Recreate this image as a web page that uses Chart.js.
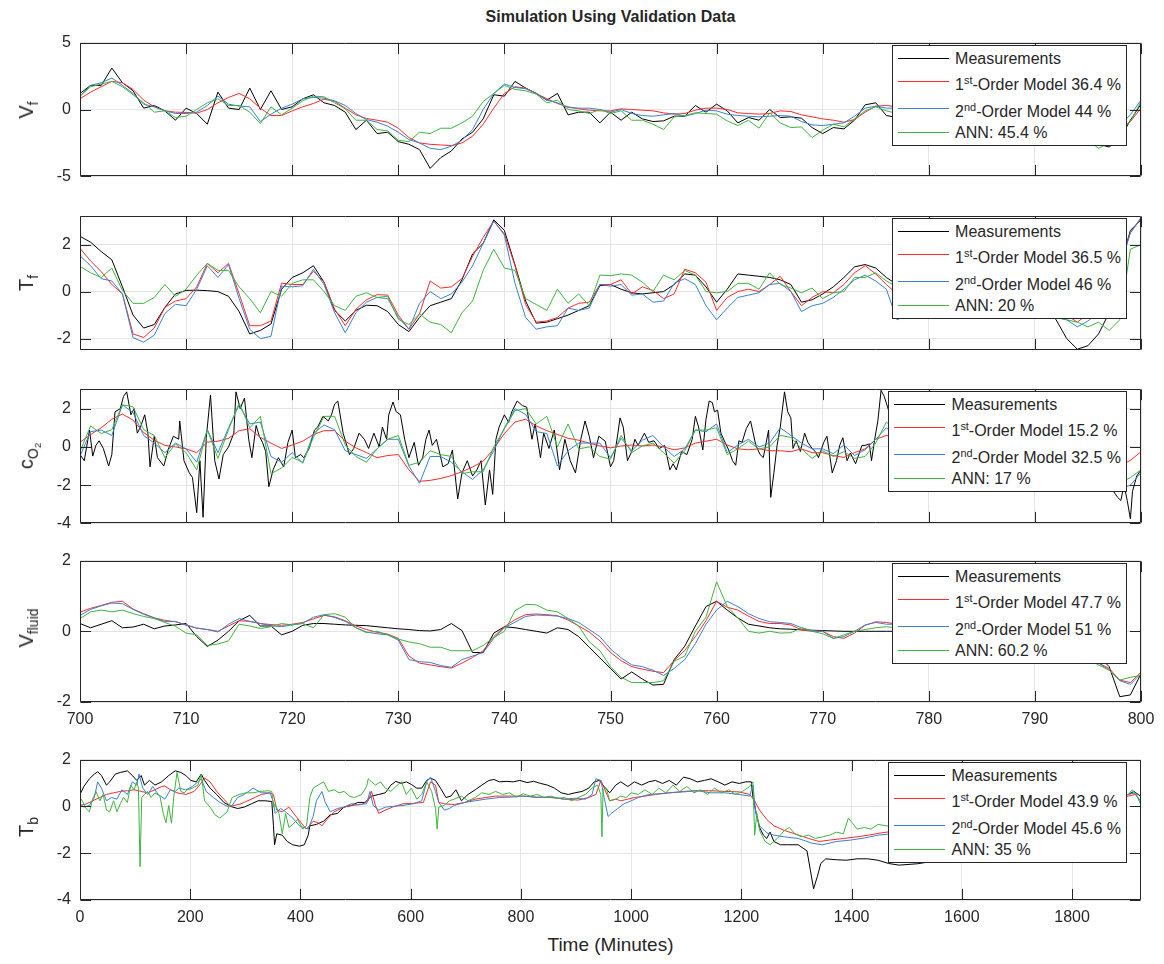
<!DOCTYPE html>
<html>
<head>
<meta charset="utf-8">
<title>Simulation Using Validation Data</title>
<script src="https://cdn.jsdelivr.net/npm/chart.js@4.4.1/dist/chart.umd.min.js"></script>
<style>
  body { margin: 0; background: #fff; }
  #page { position: relative; width: 1164px; height: 964px; overflow: hidden; background: #fff;
          font-family: 'Liberation Sans', Arial, Helvetica, sans-serif; color: #262626; }
  #page canvas { position: absolute; left: 0; }
  .title { position: absolute; left: 80px; width: 1061px; top: 7px; line-height: 20px; text-align: center;
           font-weight: bold; font-size: 16px; }
  .ylab { position: absolute; font-size: 20px; line-height: 24px; white-space: nowrap;
          transform: translate(-50%, -50%) rotate(-90deg); }
  .ylab sub { font-size: 0.7em; vertical-align: -0.35em; line-height: 0; }
  .xlab { position: absolute; left: 80px; width: 1061px; top: 933px; line-height: 24px; text-align: center; font-size: 19px; }
  .legend { position: absolute; right: 37px; height: 101px; box-sizing: border-box; border: 1px solid #262626;
            background: #fff; padding: 0 5px 0 62px; font-size: 16px; white-space: nowrap; z-index: 2; }
  .legend .txt { position: relative; height: 0; line-height: 16px; }
  .legend .key { position: absolute; left: 5px; width: 51px; height: 0; border-top: 1px solid; }
  .legend sup { font-size: 0.68em; vertical-align: 0.55em; line-height: 0; }
</style>
</head>
<body>
<div id="page">
  <div class="title">Simulation Using Validation Data</div>
  <div class="xlab">Time (Minutes)</div>
</div>
<script>
// sample instants (minutes) for the zoomed window
var minutes = [700, 701, 702, 703, 704, 705, 706, 707, 708, 709,
  710, 711, 712, 713, 714, 715, 716, 717, 718, 719,
  720, 721, 722, 723, 724, 725, 726, 727, 728, 729,
  730, 731, 732, 733, 734, 735, 736, 737, 738, 739,
  740, 741, 742, 743, 744, 745, 746, 747, 748, 749,
  750, 751, 752, 753, 754, 755, 756, 757, 758, 759,
  760, 761, 762, 763, 764, 765, 766, 767, 768, 769,
  770, 771, 772, 773, 774, 775, 776, 777, 778, 779,
  780, 781, 782, 783, 784, 785, 786, 787, 788, 789,
  790, 791, 792, 793, 794, 795, 796, 797, 798, 799, 800];

var zoomTicks = [700, 710, 720, 730, 740, 750, 760, 770, 780, 790, 800];
var fullTicks = [0, 200, 400, 600, 800, 1000, 1200, 1400, 1600, 1800];

// ---- V_f ----
var vfMeas = [1.2, 1.8, 1.8, 3.1, 2.0, 1.4, 0.1, 0.3, -0.1, -0.8,
  0.1, -0.3, -1.1, 1.3, 0.1, 0.0, 1.6, 0.0, 1.4, 0.0,
  0.2, 0.8, 1.1, 0.5, 0.3, -0.2, -1.5, -0.8, -1.8, -1.7,
  -2.4, -2.6, -3.0, -4.4, -3.6, -3.1, -2.2, -1.7, -0.7, 1.1,
  1.0, 2.1, 1.6, 1.2, 0.7, 1.2, -0.4, -0.2, -0.2, -1.0,
  -0.2, -0.8, -0.2, -0.7, -0.9, -0.85, -0.5, -0.5, 0.3, -0.2,
  0.4, -0.1, -1.0, -0.6, -0.8, 0.0, -0.6, -0.55, -0.65, -1.35,
  -1.8, -1.35, -1.45, -0.8, 0.35, 0.5, -0.45, -0.6, -0.3, -0.1,
  0.2, 0.0, -0.3, -0.2, 0.1, 0.0, -0.4, -0.2, 0.2, 0.0,
  -0.3, -0.5, -0.8, -1.2, -1.6, -2.1, -2.6, -2.8, -2.2, -0.8, 0.4];
var vfFirst = [0.8, 1.3, 1.7, 2.1, 2.0, 1.5, 0.7, 0.2, -0.1, -0.2,
  -0.22, -0.28, 0.0, 0.5, 0.9, 1.2, 0.8, 0.1, -0.45, -0.45,
  -0.1, 0.2, 0.45, 0.78, 0.6, 0.1, -0.4, -0.67, -0.8, -0.95,
  -1.4, -2.1, -2.5, -2.6, -2.65, -2.7, -2.5, -2.0, -1.1, 0.1,
  1.2, 1.7, 1.6, 1.2, 0.8, 0.45, 0.2, 0.05, -0.05, -0.1,
  -0.1, 0.05, 0.0, -0.05, -0.1, -0.25, -0.35, -0.3, -0.05, 0.1,
  0.1, 0.0, -0.25, -0.3, -0.35, -0.3, -0.1, -0.15, -0.4, -0.55,
  -0.7, -0.8, -0.95, -0.75, -0.2, 0.25, 0.3, 0.2, 0.1, 0.0,
  -0.1, -0.1, -0.1, -0.05, 0.0, 0.0, -0.1, -0.1, 0.0, 0.0,
  -0.1, -0.3, -0.5, -0.8, -1.1, -1.4, -1.8, -2.0, -1.6, -0.9, 0.1];
var vfSecond = [1.0, 1.8, 2.0, 2.35, 1.8, 1.2, 0.4, 0.2, -0.1, -0.3,
  -0.3, -0.2, 0.3, 1.0, 0.4, 0.25, 0.2, -0.9, -0.35, 0.1,
  0.4, 0.8, 0.9, 0.85, 0.65, 0.3, -0.3, -0.75, -0.95, -1.25,
  -1.7, -2.25, -2.5, -2.9, -3.0, -2.75, -2.3, -1.5, 0.0, 1.2,
  1.9, 1.65, 1.55, 1.2, 0.7, 0.5, 0.15, 0.1, 0.1, 0.0,
  -0.2, 0.0, -0.3, -0.45, -0.5, -0.4, -0.3, -0.5, -0.3, -0.05,
  -0.1, -0.35, -0.45, -0.5, -0.55, -0.5, -0.45, -0.5, -0.9, -1.15,
  -1.2, -1.1, -1.0, -0.5, 0.1, 0.25, 0.1, 0.1, 0.0, -0.1,
  -0.1, -0.2, -0.2, -0.1, -0.1, -0.2, -0.3, -0.2, -0.1, -0.2,
  -0.3, -0.6, -1.0, -1.4, -1.8, -2.1, -2.3, -2.2, -1.2, -0.4, 0.7];
var vfAnn = [1.0, 1.7, 1.9, 2.1, 1.7, 1.1, 0.5, -0.2, -0.1, -0.6,
  -0.5, 0.0, 0.5, 0.8, 0.3, 0.3, -0.2, -1.05, 0.2, -0.4,
  0.1, 0.65, 1.0, 0.95, 0.5, 0.05, -0.8, -0.8, -1.5, -1.6,
  -2.3, -2.4, -1.7, -1.8, -1.4, -1.4, -1.0, -0.5, 0.6, 1.2,
  1.8, 1.5, 1.4, 1.15, 0.5, 0.7, 0.0, -0.1, -0.3, 0.0,
  -0.3, -0.1, -0.8, -0.8, -1.1, -1.5, -0.55, -0.45, -0.25, -0.3,
  -0.35, -0.85, -1.2, -0.8, -1.4, -0.25, -1.0, -1.35, -1.3, -2.1,
  -1.55, -1.1, -1.3, -0.7, -0.1, 0.2, -0.1, -0.3, -0.2, -0.4,
  -0.2, -0.5, -0.3, -0.4, -0.2, -0.5, -0.6, -0.3, -0.2, -0.5,
  -0.7, -0.9, -1.3, -1.6, -2.0, -2.3, -2.9, -2.5, -1.5, -0.9, 0.6];

// ---- T_f ----
var tfMeas = [2.35, 2.1, 1.7, 1.35, 0.2, -1.0, -1.55, -1.4, -0.67, -0.1,
  0.05, 0.06, 0.04, 0.0, -0.2, -0.85, -1.8, -1.65, -1.38, 0.1,
  0.6, 0.8, 1.1, 0.4, -0.8, -1.25, -0.8, -0.58, -0.6, -0.85,
  -1.4, -1.7, -1.1, -0.6, -0.45, -0.3, 0.5, 1.6, 2.05, 3.05,
  2.6, 1.13, -0.4, -1.34, -1.3, -1.15, -1.0, -0.8, -0.6, 0.25,
  0.3, 0.1, -0.05, -0.1, -0.05, 0.0, 0.3, 0.75, 0.7, 0.2,
  -0.45, 0.1, 0.75, 0.7, 0.65, 0.6, 0.5, 0.3, -0.45, -0.35,
  -0.1, 0.2, 0.6, 1.05, 1.15, 1.0, 0.6, 0.3, -0.1, -0.2,
  0.0, 0.2, 0.5, 0.8, 0.9, 0.8, 0.7, 0.6, 0.5, 0.2,
  -0.2, -0.7, -1.2, -2.0, -2.45, -2.3, -1.8, -0.9, 1.0, 2.6, 3.05];
var tfFirst = [1.84, 1.3, 0.85, 0.3, -0.1, -1.8, -1.95, -1.55, -0.67, -0.4,
  -0.3, 0.2, 1.2, 0.8, 1.2, -0.1, -1.45, -1.45, -1.25, 0.36,
  0.3, 0.3, 0.87, 0.4, -0.75, -1.45, -0.75, -0.35, -0.13, -0.15,
  -1.0, -1.6, -0.95, 0.45, 0.15, 0.2, 0.55, 1.5, 2.3, 3.0,
  2.45, 1.1, -0.55, -1.3, -1.25, -1.1, -0.7, -0.5, -0.45, 0.3,
  0.3, 0.5, -0.1, 0.2, 0.05, -0.3, -0.1, 0.95, 0.8, 0.4,
  -0.8, -0.25, 0.0, 0.1, 0.0, 0.3, 0.65, 0.0, -0.6, -0.25,
  0.0, -0.05, 0.3, 0.8, 1.1, 0.75, 0.3, -0.1, -0.2, 0.0,
  0.2, 0.3, 0.4, 0.5, 0.6, 0.6, 0.5, 0.3, 0.1, -0.2,
  -0.5, -0.8, -0.85, -1.0, -1.3, -0.95, -0.7, -0.3, 1.2, 2.5, 3.1];
var tfSecond = [1.52, 1.1, 0.55, 0.45, -0.1, -1.96, -2.15, -1.85, -0.93, -0.54,
  -0.6, 0.1, 1.1, 0.6, 1.15, -0.3, -1.6, -2.0, -1.9, 0.23,
  0.2, 0.25, 0.95, 0.3, -0.9, -1.75, -0.9, -0.45, -0.25, -0.3,
  -1.1, -1.6, -0.5, 0.0, -0.3, -0.1, 0.4, 1.1, 2.05, 3.0,
  2.4, 0.35, -1.1, -1.6, -1.5, -1.45, -0.7, -0.8, -0.7, 0.3,
  0.23, 0.3, -0.15, -0.1, -0.45, -0.4, 0.35, 0.55, 0.3, -0.6,
  -1.2, -0.7, -0.25, -0.15, -0.05, 0.3, 0.35, 0.0, -0.85, -0.6,
  -0.5, -0.25, 0.1, 0.5, 0.7, 0.45, 0.1, -1.2, -1.0, -0.6,
  -0.3, 0.0, 0.2, 0.3, 0.4, 0.5, 0.4, 0.2, 0.0, -0.3,
  -0.7, -1.0, -1.1, -1.2, -1.5, -1.25, -0.9, -0.5, 1.0, 2.5, 3.15];
var tfAnn = [1.07, 0.8, 0.6, 1.0, 0.05, -0.5, -0.5, -0.25, 0.3, -0.2,
  0.1, 0.7, 1.2, 0.9, 0.9, 0.2, -0.3, -0.9, 0.0, -0.2,
  0.35, 0.5, 0.5, 0.0, -0.6, -0.8, -0.2, -0.05, -0.25, -0.2,
  -1.18, -1.4, -0.95, -1.3, -1.4, -1.75, -0.9, -0.4, 0.9, 1.8,
  1.0, 0.9, -0.3, -0.55, -0.8, 0.1, -0.5, -0.1, -0.6, 0.7,
  0.68, 0.75, 0.7, 0.4, 0.0, 0.7, 0.5, 0.9, 0.7, 0.0,
  -0.05, 0.0, 0.35, 0.35, 0.1, 0.8, 0.3, 0.15, -0.05, 0.15,
  -0.3, -0.05, 0.0, 0.6, 0.6, 0.8, 0.45, 0.2, 0.0, -0.2,
  0.1, 0.3, 0.5, 0.4, 0.6, 0.5, 0.3, 0.2, -0.1, -0.3,
  -0.6, -0.9, -1.1, -1.2, -1.3, -1.5, -1.3, -1.65, -1.2, 1.8, 2.0];

// ---- c_O2 (measurements kept at their own vertices: the signal is spiky) ----
var cO2Meas = [[700.0, -0.4], [700.4, -0.72], [700.9, 0.88], [701.2, -0.48], [701.5, 0.08], [701.8, 0.32],
  [702.2, -0.08], [702.7, -1.0], [703.0, -0.4], [703.3, 1.84], [703.8, 2.0], [704.1, 2.64], [704.4, 2.88],
  [704.8, 1.68], [705.1, 2.0], [705.4, 0.72], [705.7, 1.04], [706.1, 1.68], [706.4, 0.72], [706.6, -1.04],
  [707.0, 0.56], [707.3, -0.56], [707.9, -1.0], [708.3, -0.16], [708.8, 0.56], [709.3, 0.4], [709.4, 1.36],
  [709.8, -0.72], [710.3, -1.36], [710.6, -1.6], [711.0, -3.44], [711.3, -0.72], [711.6, -3.68], [711.9, 0.48],
  [712.3, 2.72], [712.7, -0.72], [713.1, -1.68], [713.5, -0.4], [714.0, 0.0], [714.5, 0.72], [714.7, 2.88],
  [715.1, 2.0], [715.5, 2.56], [715.9, 0.4], [716.2, -0.56], [716.6, 1.12], [716.9, 0.56], [717.2, 0.24],
  [717.5, -0.24], [717.8, -2.08], [718.2, -1.2], [718.7, -0.56], [719.2, -1.04], [719.6, 0.24], [720.0, 0.88],
  [720.3, -0.56], [720.8, -0.4], [721.1, -0.56], [721.6, -0.08], [722.1, 0.88], [722.4, 1.04], [722.9, 1.6],
  [723.4, 1.36], [723.7, 1.68], [724.0, 2.24], [724.3, 2.4], [724.8, 0.72], [725.1, 0.16], [725.4, -0.4],
  [725.8, -0.08], [726.3, 0.72], [726.8, 0.4], [727.2, -0.08], [727.7, 0.72], [728.2, 0.0], [728.5, 1.04],
  [728.9, 0.4], [729.1, 1.68], [729.5, 2.35], [729.8, 1.84], [730.2, 1.68], [730.6, 0.4], [731.0, -0.56],
  [731.5, 0.24], [731.9, -0.96], [732.3, -0.56], [732.6, 0.4], [732.9, 0.88], [733.2, 0.08], [733.6, 0.4],
  [733.9, -0.32], [734.2, -1.04], [734.7, -0.88], [735.1, -0.16], [735.6, -2.72], [736.0, -1.36], [736.5, -0.72],
  [737.0, -1.52], [737.4, -1.2], [737.8, -0.72], [738.2, -3.04], [738.6, -1.2], [738.9, -2.48], [739.2, 0.4],
  [739.5, 1.04], [740.0, 1.68], [740.4, 1.28], [740.7, 1.84], [741.2, 2.4], [741.7, 2.16], [742.1, 2.08],
  [742.6, 0.4], [742.9, 1.2], [743.4, -0.56], [743.7, 0.72], [744.2, -0.08], [744.7, 0.88], [745.2, -1.2],
  [745.7, 0.4], [746.2, -0.72], [746.7, -1.36], [747.2, 0.4], [747.6, 1.36], [748.0, 0.56], [748.4, -0.56],
  [748.9, 0.56], [749.5, 0.3], [750.0, -1.04], [750.3, -0.72], [750.7, 0.72], [750.9, 1.52], [751.2, 1.04],
  [751.6, -0.72], [752.0, -0.24], [752.3, 0.4], [752.6, 0.08], [752.9, 0.4], [753.2, 0.72], [753.6, 0.24],
  [754.1, 0.32], [754.6, -0.08], [755.1, 0.08], [755.6, -1.2], [755.9, -0.88], [756.2, -1.2], [756.7, -0.24],
  [757.2, -0.4], [757.7, 0.4], [758.0, 1.6], [758.3, 1.04], [758.7, -0.16], [759.0, 1.44], [759.3, 2.4],
  [759.6, 2.32], [759.8, 1.84], [760.1, 1.92], [760.4, 0.72], [760.8, 0.24], [761.2, -0.24], [761.5, -0.72],
  [761.8, -0.96], [762.1, 0.32], [762.4, 0.24], [762.8, 0.96], [763.2, 1.36], [763.7, 0.08], [764.1, -0.4],
  [764.4, -0.56], [764.9, 0.88], [765.1, -2.64], [765.4, -1.36], [765.7, 0.08], [766.0, 1.04], [766.4, 2.88],
  [766.7, 1.84], [767.0, 1.52], [767.2, -0.08], [767.5, 0.32], [767.9, -0.24], [768.3, 0.72], [768.6, 0.24],
  [769.0, -0.08], [769.3, -0.24], [769.6, -0.56], [770.1, 0.24], [770.4, 0.56], [770.9, -1.36], [771.3, -0.72],
  [771.6, 0.08], [771.9, 0.48], [772.3, -0.72], [772.6, -0.32], [773.1, -0.88], [773.4, -0.4], [773.7, 0.08],
  [774.0, 0.08], [774.4, 0.16], [774.6, -0.72], [774.9, 0.4], [775.2, 1.36], [775.5, 2.96], [775.8, 2.64],
  [777.0, 0.5], [778.5, -0.8], [780.0, 0.6], [781.5, -0.5], [783.0, 0.9], [784.5, -1.0], [786.0, 0.4],
  [787.5, -0.6], [789.0, 0.8], [790.5, -1.2], [792.0, 0.3], [793.5, -0.9], [795.0, 0.2], [796.5, -1.6],
  [797.8, -2.64], [798.1, -2.8], [798.4, -2.0], [798.7, -2.8], [799.0, -3.76], [799.2, -2.32], [799.6, -1.52],
  [800.0, -1.2]];
var cO2First = [0.24, 0.65, 1.0, 1.45, 1.72, 1.4, 0.75, 0.35, 0.08, 0.0,
  -0.1, -0.3, 0.25, 0.3, 0.45, 0.85, 0.95, 0.5, 0.2, -0.08,
  0.1, 0.3, 0.65, 0.85, 0.85, 0.3, -0.05, -0.3, -0.56, -0.45,
  -0.4, -1.2, -1.8, -1.75, -1.65, -1.5, -1.3, -1.05, -0.75, -0.1,
  0.7, 1.3, 1.45, 1.1, 0.85, 0.65, 0.45, 0.35, 0.2, 0.05,
  -0.05, 0.05, 0.1, 0.05, 0.1, 0.0, -0.15, -0.05, 0.2, 0.3,
  0.4, 0.1, -0.1, -0.15, -0.1, -0.2, -0.2, -0.25, -0.1, -0.3,
  -0.3, -0.45, -0.55, -0.3, -0.1, 0.4, 0.6, 0.5, 0.3, 0.2,
  0.1, 0.0, 0.1, 0.2, 0.0, -0.1, 0.0, 0.1, -0.1, -0.2,
  -0.3, -0.4, -0.6, -0.8, -1.0, -1.1, -1.2, -1.2, -1.0, -0.7, -0.25];
var cO2Second = [-0.48, 0.8, 0.88, 0.6, 2.2, 1.8, 0.6, 0.2, -0.3, 0.2,
  -0.1, -0.8, 0.9, -0.3, 1.0, 2.2, 1.2, 1.3, -0.5, -0.8,
  -0.3, -0.85, 0.7, 1.15, 0.9, -0.2, -0.4, -0.6, -0.1, 0.4,
  0.4, -1.0, -1.9, -0.5, -0.5, -0.8, -1.3, -1.7, -1.2, -0.2,
  1.0, 2.0, 1.7, 0.8, 0.7, -1.0, -0.2, 0.2, 0.2, 0.2,
  -0.56, 0.45, -0.2, 0.35, 0.6, 0.0, -0.5, -0.1, 0.88, 0.8,
  1.2, -0.3, 0.1, 0.4, 0.0, 0.2, 1.0, 0.6, 0.2, -0.1,
  -0.1, -0.35, 0.1, -0.45, -0.15, 0.4, 1.0, 0.6, 0.0, 0.3,
  -0.2, 0.2, 0.4, -0.3, 0.1, 0.2, -0.2, 0.3, -0.4, 0.0,
  -0.3, -0.6, -0.9, -1.2, -1.3, -1.6, -1.8, -1.9, -2.2, -2.0, -1.35];
var cO2Ann = [-0.24, 1.1, 0.7, 0.9, 2.2, 2.1, 0.9, 0.6, -0.56, 0.16,
  -0.3, -1.2, 0.9, -0.6, 0.9, 2.3, 1.0, 1.6, -1.4, -1.1,
  -0.55, -0.8, 0.5, 1.6, 1.6, 0.1, -0.5, -0.8, -0.1, 0.4,
  0.6, -0.96, -0.8, -0.2, -0.4, -0.5, -1.4, -1.3, -1.3, 0.0,
  0.95, 1.9, 2.0, 1.2, 1.6, 0.0, 1.2, -0.1, 0.0, -0.5,
  -0.64, 0.6, -0.3, 0.05, 0.2, -0.3, -0.85, -0.2, 0.88, 0.88,
  1.0, -0.4, -0.1, 0.3, -0.1, 0.0, 0.6, 0.5, -0.1, -0.6,
  -0.2, -0.5, -0.25, -0.6, -0.5, 0.2, 1.3, 0.8, 0.1, 0.3,
  -0.3, 0.1, 0.3, -0.4, 0.0, 0.2, -0.3, 0.2, -0.5, -0.1,
  -0.4, -0.6, -0.8, -1.0, -1.2, -1.4, -1.6, -1.7, -1.9, -1.6, -1.2];

// ---- V_fluid ----
var vflMeas = [0.22, 0.1, 0.2, 0.3, 0.1, 0.12, 0.2, 0.07, 0.15, 0.18,
  0.22, -0.15, -0.43, -0.25, 0.0, 0.3, 0.45, 0.15, 0.15, -0.1,
  0.0, 0.17, 0.22, 0.22, 0.2, 0.18, 0.17, 0.16, 0.13, 0.1,
  0.07, 0.05, 0.02, 0.01, 0.05, 0.22, 0.02, -0.6, -0.6, -0.05,
  0.13, 0.1, 0.05, 0.0, -0.05, 0.1, 0.05, -0.15, -0.45, -0.75,
  -1.05, -1.35, -1.15, -1.35, -1.52, -1.5, -0.8, -0.42, 0.15, 0.7,
  0.85, 0.6, 0.38, 0.2, 0.15, 0.1, 0.07, 0.06, 0.04, 0.03,
  0.02, 0.01, 0.0, 0.0, 0.0, 0.0, 0.0, 0.0, 0.0, 0.0,
  0.0, 0.0, 0.0, 0.0, 0.0, 0.0, 0.0, 0.0, 0.0, 0.0,
  0.0, -0.02, -0.05, -0.1, -0.2, -0.4, -0.7, -1.0, -1.85, -1.8, -1.2];
var vflFirst = [0.54, 0.65, 0.73, 0.82, 0.85, 0.63, 0.5, 0.38, 0.31, 0.27,
  0.18, 0.09, 0.05, 0.0, 0.15, 0.3, 0.28, 0.22, 0.19, 0.17,
  0.2, 0.25, 0.35, 0.45, 0.41, 0.3, 0.15, 0.05, -0.03, -0.08,
  -0.2, -0.7, -0.9, -0.95, -1.0, -1.04, -0.9, -0.74, -0.55, -0.15,
  0.13, 0.33, 0.47, 0.49, 0.47, 0.44, 0.32, 0.15, -0.02, -0.27,
  -0.6, -0.83, -1.0, -1.07, -1.13, -1.17, -0.83, -0.54, -0.15, 0.3,
  0.85, 0.68, 0.6, 0.43, 0.28, 0.22, 0.22, 0.18, 0.04, 0.0,
  0.0, -0.15, -0.2, -0.05, 0.17, 0.27, 0.25, 0.2, 0.15, 0.1,
  0.05, 0.0, 0.0, 0.05, 0.1, 0.15, 0.1, 0.05, 0.0, -0.05,
  -0.1, -0.2, -0.3, -0.45, -0.6, -0.75, -0.9, -1.05, -1.38, -1.45, -1.15];
var vflSecond = [0.45, 0.62, 0.72, 0.8, 0.78, 0.62, 0.48, 0.38, 0.27, 0.28,
  0.17, 0.09, 0.05, -0.02, 0.2, 0.36, 0.28, 0.22, 0.16, 0.13,
  0.18, 0.23, 0.4, 0.47, 0.39, 0.28, 0.1, -0.02, -0.07, -0.1,
  -0.25, -0.8, -0.86, -0.88, -0.97, -1.02, -0.8, -0.7, -0.6, -0.2,
  0.1, 0.26, 0.42, 0.46, 0.45, 0.43, 0.36, 0.25, 0.05, -0.15,
  -0.5, -0.75, -0.95, -1.0, -1.1, -1.25, -1.05, -0.8, -0.35, 0.2,
  0.6, 0.85, 0.7, 0.5, 0.36, 0.27, 0.25, 0.22, 0.1, 0.02,
  0.0, -0.2, -0.15, 0.0, 0.18, 0.25, 0.2, 0.2, 0.15, 0.1,
  0.05, 0.0, 0.0, 0.05, 0.1, 0.15, 0.1, 0.05, 0.0, -0.05,
  -0.1, -0.2, -0.3, -0.45, -0.6, -0.75, -0.9, -1.1, -1.4, -1.5, -1.2];
var vflAnn = [0.36, 0.55, 0.6, 0.55, 0.6, 0.5, 0.42, 0.36, 0.25, 0.14,
  -0.05, -0.1, -0.4, -0.36, -0.27, 0.2, 0.15, 0.08, 0.13, 0.22,
  0.18, 0.22, 0.1, 0.47, 0.5, 0.4, 0.1, -0.04, 0.0, -0.1,
  -0.22, -0.3, -0.35, -0.45, -0.45, -0.55, -0.55, -0.55, -0.4, -0.18,
  0.0, 0.58, 0.76, 0.75, 0.6, 0.55, 0.36, 0.15, -0.3, -0.55,
  -1.0, -1.3, -1.45, -1.45, -1.45, -1.4, -0.85, -0.7, 0.0, 0.4,
  1.4, 0.7, 0.38, 0.0, -0.05, 0.0, -0.05, -0.04, 0.1, 0.0,
  -0.07, -0.2, -0.1, 0.0, 0.05, 0.1, 0.13, 0.1, 0.05, 0.0,
  0.05, 0.1, 0.0, -0.05, 0.05, 0.1, 0.0, -0.05, -0.1, -0.05,
  -0.15, -0.25, -0.35, -0.5, -0.65, -0.8, -0.95, -1.1, -1.38, -1.3, -1.25];

// ---- T_b, whole validation record, [minute, value] ----
var tbMeas = [[0, 0.51], [7, 0.85], [17, 1.18], [26, 1.38], [32, 1.48], [39, 1.32], [48, 0.91], [54, 1.05],
  [64, 1.38], [73, 1.45], [86, 1.52], [95, 1.32], [103, 1.11], [111, 1.32], [117, 0.91], [126, 1.11],
  [136, 0.91], [148, 1.05], [161, 1.32], [173, 1.52], [183, 1.45], [192, 1.32], [201, 1.11], [211, 1.05],
  [220, 1.38], [226, 1.11], [236, 0.78], [248, 0.51], [261, 0.17], [273, 0.0], [286, -0.09], [298, -0.03],
  [311, 0.11], [323, 0.24], [336, 0.24], [348, 0.21], [351, -0.83], [353, -1.64], [357, -1.17], [367, -1.23],
  [376, -1.5], [386, -1.64], [398, -1.7], [407, -1.64], [414, -1.23], [417, -0.83], [429, -0.77], [442, -0.63],
  [454, -0.36], [467, -0.3], [479, -0.03], [492, 0.04], [504, 0.17], [517, 0.17], [529, 0.44], [542, 0.51],
  [554, 0.58], [564, 0.91], [573, 1.07], [583, 0.98], [592, 1.05], [601, 0.94], [611, 0.78], [620, 0.78],
  [629, 1.11], [636, 1.21], [645, 1.11], [654, 0.78], [664, 0.38], [673, 0.44], [682, 0.71], [692, 0.24],
  [704, 0.51], [717, 0.71], [729, 0.91], [742, 1.11], [751, 1.15], [761, 1.05], [773, 1.07], [786, 1.05],
  [798, 1.11], [811, 1.02], [823, 1.07], [836, 0.98], [848, 0.91], [861, 0.78], [873, 0.58], [886, 0.51],
  [898, 0.58], [911, 0.64], [923, 0.78], [933, 1.05], [942, 1.11], [951, 0.85], [961, 0.58], [972, 0.91],
  [981, 1.05], [994, 0.85], [1006, 1.05], [1019, 0.91], [1032, 1.05], [1044, 1.11], [1057, 0.98], [1069, 1.11],
  [1082, 0.91], [1095, 1.25], [1107, 1.18], [1120, 1.05], [1133, 1.11], [1145, 1.18], [1158, 1.05], [1170, 0.91],
  [1183, 1.05], [1196, 0.98], [1208, 1.05], [1218, 1.05], [1221, 0.38], [1227, -0.3], [1233, -0.9], [1240, -1.23],
  [1246, -1.37], [1252, -1.1], [1259, -1.5], [1271, -1.64], [1284, -1.64], [1303, -1.64], [1319, -1.9],
  [1325, -2.71], [1331, -3.52], [1338, -2.98], [1344, -2.44], [1353, -2.24], [1372, -2.28], [1391, -2.3],
  [1410, -2.24], [1429, -2.24], [1448, -2.3], [1467, -2.44], [1486, -2.51], [1520, -2.45], [1560, -2.3],
  [1600, -1.9], [1650, -1.3], [1700, -0.7], [1750, -0.3], [1800, 0.05], [1850, 0.3], [1902, 0.51],
  [1912, 0.64], [1924, 0.44]];
var tbFirst = [[0, 0.04], [11, 0.1], [23, 0.24], [36, 0.38], [48, 0.51], [61, 0.58], [73, 0.64], [86, 0.67],
  [98, 0.71], [111, 0.64], [123, 0.58], [136, 0.71], [148, 0.85], [154, 0.87], [164, 0.71], [176, 0.58],
  [192, 0.51], [207, 0.64], [217, 0.91], [226, 1.21], [236, 1.05], [248, 0.64], [261, 0.31], [273, 0.0],
  [292, 0.11], [311, 0.31], [329, 0.51], [345, 0.58], [351, 0.51], [357, -0.16], [367, -0.23], [379, -0.03],
  [392, -0.43], [401, -0.7], [411, -0.97], [423, -0.63], [432, -0.7], [439, -0.83], [448, -0.56], [461, -0.23],
  [479, -0.03], [492, 0.04], [511, 0.08], [523, 0.24], [529, 0.64], [536, 0.04], [542, -0.3], [554, -0.16],
  [567, -0.03], [586, 0.11], [604, 0.13], [623, 0.17], [636, 1.05], [645, 0.91], [651, 0.17], [661, 0.11],
  [679, 0.08], [698, 0.17], [717, 0.31], [736, 0.38], [754, 0.44], [779, 0.44], [804, 0.44], [829, 0.4],
  [854, 0.38], [879, 0.31], [904, 0.27], [923, 0.38], [936, 0.51], [945, 1.11], [951, 0.78], [961, 0.24],
  [972, 0.31], [981, 0.24], [994, 0.31], [1006, 0.38], [1025, 0.44], [1044, 0.51], [1069, 0.58], [1095, 0.64],
  [1120, 0.67], [1145, 0.67], [1170, 0.64], [1196, 0.62], [1215, 0.51], [1224, 0.24], [1233, -0.16],
  [1246, -0.56], [1259, -0.83], [1278, -1.03], [1297, -1.17], [1322, -1.37], [1341, -1.5], [1360, -1.44],
  [1385, -1.37], [1410, -1.3], [1435, -1.21], [1454, -1.13], [1480, -1.05], [1550, -0.9], [1600, -0.75],
  [1650, -0.6], [1700, -0.4], [1750, -0.2], [1800, 0.0], [1850, 0.25], [1902, 0.44], [1915, 0.51], [1924, 0.24]];
var tbSecond = [[0, 0.11], [7, -0.03], [17, 0.04], [26, 0.38], [32, 1.05], [39, 0.78], [48, 0.24], [57, 0.38],
  [67, 0.31], [76, 0.71], [86, 0.51], [95, 1.05], [103, 0.91], [107, 1.38], [114, 0.78], [123, 0.51],
  [132, 0.85], [142, 0.51], [154, 0.31], [164, 0.71], [173, 0.64], [179, 0.78], [192, 0.71], [204, 0.85],
  [214, 1.05], [220, 1.18], [229, 0.64], [242, 0.38], [254, 0.17], [267, 0.0], [276, 0.04], [286, 0.38],
  [298, 0.51], [314, 0.78], [329, 0.58], [345, 0.58], [351, 0.17], [354, -0.3], [364, -0.09], [373, -0.23],
  [386, -0.5], [398, -0.83], [414, -0.97], [423, -0.43], [429, 0.24], [439, 0.64], [445, 0.17], [454, -0.23],
  [467, -0.09], [479, -0.03], [492, 0.11], [504, 0.08], [520, 0.11], [526, 0.64], [532, 0.04], [542, -0.16],
  [554, -0.03], [567, 0.0], [586, 0.04], [604, 0.11], [620, 0.24], [629, 1.05], [636, 1.25], [645, 0.64],
  [651, 0.17], [661, -0.16], [670, -0.09], [679, 0.04], [698, 0.17], [717, 0.24], [736, 0.31], [761, 0.38],
  [786, 0.4], [804, 0.44], [829, 0.38], [854, 0.4], [879, 0.31], [898, 0.35], [917, 0.31], [929, 0.51],
  [936, 1.18], [945, 1.11], [951, 0.38], [958, -0.43], [964, -0.3], [975, -0.1], [987, 0.11], [1000, 0.24],
  [1013, 0.38], [1032, 0.51], [1050, 0.54], [1069, 0.58], [1095, 0.62], [1120, 0.67], [1145, 0.58],
  [1170, 0.58], [1196, 0.51], [1215, 0.44], [1221, 0.91], [1226, -0.3], [1233, -0.83], [1246, -1.13],
  [1259, -1.23], [1278, -1.3], [1303, -1.37], [1328, -1.57], [1347, -1.64], [1372, -1.5], [1398, -1.44],
  [1423, -1.35], [1448, -1.23], [1480, -1.15], [1550, -1.0], [1600, -0.85], [1650, -0.7], [1700, -0.5],
  [1750, -0.25], [1800, 0.0], [1850, 0.25], [1902, 0.51], [1915, 0.58], [1924, 0.11]];
var tbAnn = [[0, 0.38], [4, 0.24], [11, -0.09], [17, -0.23], [23, 0.31], [29, 0.64], [36, 0.24], [42, 0.51],
  [48, -0.16], [54, -0.23], [61, 0.24], [67, -0.23], [73, 0.11], [79, 0.38], [86, 0.17], [92, 0.91],
  [98, 0.71], [103, 1.05], [106, 0.78], [109, -2.58], [112, 0.38], [117, 0.51], [123, 0.64], [129, 0.38],
  [136, 0.58], [145, 0.44], [151, -0.3], [156, -0.7], [161, 0.04], [166, -0.72], [170, 0.38], [176, 1.45],
  [183, 0.64], [189, 0.58], [195, 0.71], [204, 0.78], [214, 0.91], [220, 1.38], [226, 0.24], [236, -0.03],
  [245, -0.36], [254, -0.5], [267, -0.23], [276, 0.38], [289, 0.51], [301, 0.58], [314, 0.58], [326, 0.64],
  [342, 0.67], [348, 0.64], [351, -0.03], [354, 0.11], [361, -0.3], [367, -1.17], [373, -0.3], [379, -0.9],
  [386, -0.77], [395, -0.56], [404, -0.97], [411, -0.83], [417, 0.38], [423, 0.78], [432, 0.91], [442, 1.05],
  [451, 0.64], [461, 0.71], [470, 0.58], [479, 0.64], [489, 0.44], [498, 0.38], [511, 0.51], [520, 0.85],
  [523, 1.18], [529, 1.05], [536, 0.91], [545, 1.05], [554, 0.78], [564, 0.64], [573, 0.85], [583, 1.05],
  [592, 0.51], [601, 0.78], [611, 0.31], [620, 0.51], [629, 1.05], [638, 0.64], [645, -0.09], [648, -0.97],
  [651, -0.03], [661, 0.04], [670, 0.24], [679, 0.31], [692, 0.44], [704, 0.24], [717, 0.38], [729, 0.58],
  [742, 0.51], [754, 0.64], [767, 0.51], [779, 0.58], [792, 0.4], [804, 0.54], [817, 0.44], [829, 0.51],
  [842, 0.38], [854, 0.44], [867, 0.35], [879, 0.38], [892, 0.24], [904, 0.38], [917, 0.51], [929, 0.78],
  [939, 0.91], [945, 0.5], [947, -1.3], [949, 0.7], [955, 0.78], [961, 0.24], [972, 0.31], [981, 0.44],
  [991, 0.38], [1000, 0.58], [1013, 0.51], [1025, 0.71], [1038, 0.51], [1050, 0.78], [1063, 0.58], [1076, 0.91],
  [1088, 0.64], [1101, 0.85], [1114, 0.58], [1126, 0.71], [1139, 0.51], [1151, 0.78], [1164, 0.58], [1177, 0.71],
  [1189, 0.51], [1202, 0.64], [1215, 0.85], [1221, 1.05], [1224, -1.23], [1228, -0.3], [1233, -1.03],
  [1243, -1.5], [1252, -1.64], [1265, -1.37], [1278, -1.03], [1287, -0.9], [1297, -1.17], [1309, -1.3],
  [1322, -1.23], [1334, -1.37], [1347, -1.3], [1360, -1.23], [1372, -1.1], [1385, -1.17], [1394, -0.5],
  [1401, -0.7], [1410, -0.97], [1423, -0.9], [1435, -0.97], [1448, -0.77], [1480, -0.9], [1550, -0.8],
  [1600, -0.7], [1650, -0.55], [1700, -0.4], [1750, -0.2], [1800, 0.0], [1850, 0.25], [1902, 0.51],
  [1909, 0.71], [1915, 0.51], [1924, 0.24]];

// fit percentages shown in each legend
var vfLegend = ['Measurements', '1<sup>st</sup>-Order Model 36.4 %', '2<sup>nd</sup>-Order Model 44 %', 'ANN: 45.4 %'];
var tfLegend = ['Measurements', '1<sup>st</sup>-Order Model 36.5 %', '2<sup>nd</sup>-Order Model 46 %', 'ANN: 20 %'];
var cO2Legend = ['Measurements', '1<sup>st</sup>-Order Model 15.2 %', '2<sup>nd</sup>-Order Model 32.5 %', 'ANN: 17 %'];
var vflLegend = ['Measurements', '1<sup>st</sup>-Order Model 47.7 %', '2<sup>nd</sup>-Order Model 51 %', 'ANN: 60.2 %'];
var tbLegend = ['Measurements', '1<sup>st</sup>-Order Model 43.9 %', '2<sup>nd</sup>-Order Model 45.6 %', 'ANN: 35 %'];

var FONT = "'Liberation Sans', Arial, Helvetica, sans-serif";
var INK = '#262626';
var GRID = '#e4e4e4';
var COLORS = ['#000000', '#ff2a2a', '#3a80d0', '#3db53d'];

var page = document.getElementById('page');

function seriesPoints(times, values) {
    var pts = [];
    for (var i = 0; i < values.length; i++) {
        pts.push({ x: times[i], y: values[i] });
    }
    return pts;
}

function pairPoints(pairs) {
    return pairs.map(function (p) { return { x: p[0], y: p[1] }; });
}

// box around the axes with inward tick marks on all four sides
var boxFrame = {
    id: 'boxFrame',
    afterDatasetsDraw: function (chart) {
        var ctx = chart.ctx;
        var a = chart.chartArea;
        var xs = chart.scales.x, ys = chart.scales.y;
        var len = 10.6;
        var l = Math.round(a.left) + 0.5, r = Math.round(a.right) - 0.5;
        var t = Math.round(a.top) + 0.5, b = Math.round(a.bottom) - 0.5;
        ctx.save();
        ctx.strokeStyle = INK;
        ctx.lineWidth = 1;
        ctx.beginPath();
        xs.ticks.forEach(function (tk) {
            var px = Math.round(xs.getPixelForValue(tk.value)) + 0.5;
            ctx.moveTo(px, b); ctx.lineTo(px, b - len);
            ctx.moveTo(px, t); ctx.lineTo(px, t + len);
        });
        ys.ticks.forEach(function (tk) {
            var py = Math.round(ys.getPixelForValue(tk.value)) + 0.5;
            ctx.moveTo(l, py); ctx.lineTo(l + len, py);
            ctx.moveTo(r, py); ctx.lineTo(r - len, py);
        });
        ctx.rect(l, t, r - l, b - t);
        ctx.stroke();
        ctx.restore();
    }
};

function trace(points, color, order) {
    return {
        data: points, borderColor: color, borderWidth: 1, pointRadius: 0,
        fill: false, tension: 0, order: order, clip: 0
    };
}

function buildPanel(p) {
    var xAxisHeight = p.showX ? 30 : 0;
    var padBottom = p.showX ? 4 : 12;
    var canvas = document.createElement('canvas');
    canvas.width = 1164;
    canvas.height = 12 + (p.bottom - p.top) + xAxisHeight + padBottom;
    canvas.style.top = (p.top - 12) + 'px';
    page.appendChild(canvas);

    new Chart(canvas.getContext('2d'), {
        type: 'line',
        data: {
            datasets: [
                trace(p.series[0], COLORS[0], 4),
                trace(p.series[1], COLORS[1], 3),
                trace(p.series[2], COLORS[2], 2),
                trace(p.series[3], COLORS[3], 1)
            ]
        },
        options: {
            responsive: false,
            animation: false,
            events: [],
            layout: { padding: { top: 12, right: 23, bottom: padBottom, left: 0 } },
            plugins: { legend: { display: false }, tooltip: { enabled: false } },
            scales: {
                x: {
                    type: 'linear', min: p.xMin, max: p.xMax,
                    afterBuildTicks: function (s) {
                        s.ticks = p.xTicks.map(function (v) { return { value: v }; });
                    },
                    afterFit: function (s) { s.height = xAxisHeight; },
                    grid: { color: GRID, drawTicks: false },
                    border: { display: false },
                    ticks: {
                        display: p.showX, autoSkip: false, maxRotation: 0, padding: 8,
                        color: INK, font: { family: FONT, size: 16 },
                        callback: function (v) { return String(v); }
                    }
                },
                y: {
                    type: 'linear', min: p.yMin, max: p.yMax,
                    afterBuildTicks: function (s) {
                        s.ticks = p.yTicks.map(function (v) { return { value: v }; });
                    },
                    afterFit: function (s) { s.width = 80; },
                    grid: { color: GRID, drawTicks: false },
                    border: { display: false },
                    ticks: {
                        padding: 9, color: INK, font: { family: FONT, size: 16 },
                        callback: function (v) { return String(v); }
                    }
                }
            }
        },
        plugins: [boxFrame]
    });

    // rotated y label with subscripts
    var lab = document.createElement('div');
    lab.className = 'ylab';
    lab.innerHTML = p.label;
    lab.style.left = '26px';
    lab.style.top = ((p.top + p.bottom) / 2) + 'px';
    page.appendChild(lab);

    // legend box, anchored to the upper right of the axes
    var textTops = [4.7, 31.3, 58, 79.3];
    var keyTops = [12, 35, 62, 86];
    var box = document.createElement('div');
    box.className = 'legend';
    box.style.top = (p.top + 9) + 'px';
    p.legend.forEach(function (txt, i) {
        var key = document.createElement('span');
        key.className = 'key';
        key.style.top = keyTops[i] + 'px';
        key.style.borderTopColor = COLORS[i];
        box.appendChild(key);
        var row = document.createElement('div');
        row.className = 'txt';
        row.style.top = textTops[i] + 'px';
        row.innerHTML = txt;
        box.appendChild(row);
    });
    page.appendChild(box);
}

buildPanel({
    top: 36, bottom: 183, showX: false, xMin: 700, xMax: 800, xTicks: zoomTicks,
    yMin: -5, yMax: 5, yTicks: [-5, 0, 5], label: 'V<sub>f</sub>', legend: vfLegend,
    series: [seriesPoints(minutes, vfMeas), seriesPoints(minutes, vfFirst),
             seriesPoints(minutes, vfSecond), seriesPoints(minutes, vfAnn)]
});
buildPanel({
    top: 209, bottom: 357, showX: false, xMin: 700, xMax: 800, xTicks: zoomTicks,
    yMin: -2.5, yMax: 3.23, yTicks: [-2, 0, 2], label: 'T<sub>f</sub>', legend: tfLegend,
    series: [seriesPoints(minutes, tfMeas), seriesPoints(minutes, tfFirst),
             seriesPoints(minutes, tfSecond), seriesPoints(minutes, tfAnn)]
});
buildPanel({
    top: 382, bottom: 530, showX: false, xMin: 700, xMax: 800, xTicks: zoomTicks,
    yMin: -4, yMax: 3.05, yTicks: [-4, -2, 0, 2], label: 'c<sub>O<sub>2</sub></sub>', legend: cO2Legend,
    series: [pairPoints(cO2Meas), seriesPoints(minutes, cO2First),
             seriesPoints(minutes, cO2Second), seriesPoints(minutes, cO2Ann)]
});
buildPanel({
    top: 554, bottom: 702, showX: true, xMin: 700, xMax: 800, xTicks: zoomTicks,
    yMin: -2, yMax: 2, yTicks: [-2, 0, 2], label: 'V<sub>fluid</sub>', legend: vflLegend,
    series: [seriesPoints(minutes, vflMeas), seriesPoints(minutes, vflFirst),
             seriesPoints(minutes, vflSecond), seriesPoints(minutes, vflAnn)]
});
buildPanel({
    top: 753, bottom: 900, showX: true, xMin: 0, xMax: 1925, xTicks: fullTicks,
    yMin: -4, yMax: 2, yTicks: [-4, -2, 0, 2], label: 'T<sub>b</sub>', legend: tbLegend,
    series: [pairPoints(tbMeas), pairPoints(tbFirst), pairPoints(tbSecond), pairPoints(tbAnn)]
});
</script>
</body>
</html>
